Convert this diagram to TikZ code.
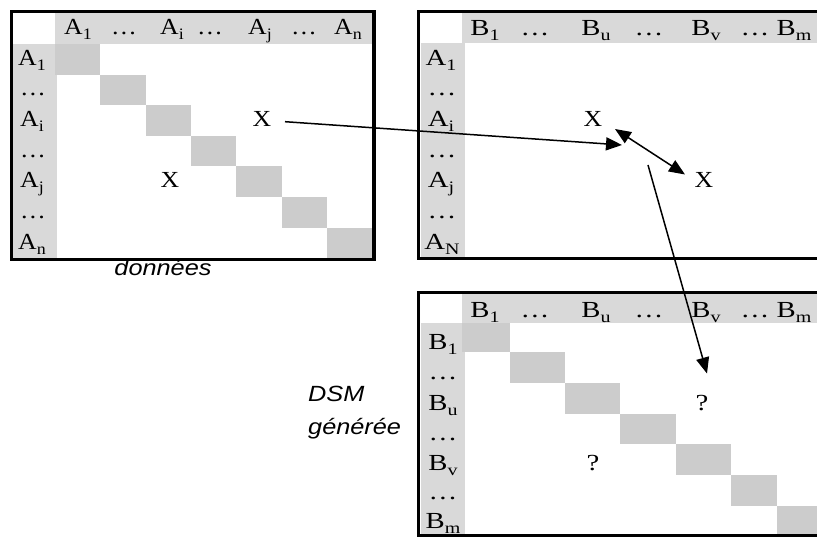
\documentclass[tikz,border=0pt]{standalone}
\usepackage{fontspec}
\setmainfont{Liberation Serif}[FakeStretch=1.12]
\newfontfamily\wideserif{Liberation Serif}[FakeStretch=1.25]
\newfontfamily\capsans{Liberation Sans}[FakeStretch=1.15]
\usetikzlibrary{arrows.meta}
\definecolor{hdrgray}{HTML}{D9D9D9}
\definecolor{diaggray}{HTML}{CCCCCC}
\newcommand\lb[2]{#1\raisebox{-5pt}{\fontsize{16}{16}\selectfont #2}}
\newcommand\dts{…}
\begin{document}
\begin{tikzpicture}[x=1pt,y=-1pt,
  lbl/.style={font=\fontsize{23}{23}\selectfont, inner sep=0pt, anchor=base},
  lblw/.style={font=\wideserif\fontsize{23}{23}\selectfont, inner sep=0pt, anchor=base},
  captxt/.style={font=\capsans\itshape\fontsize{22}{22}\selectfont, inner sep=0pt, anchor=base},
  frame/.style={draw=black, line width=3.2pt},
  conn/.style={line width=1.5pt, -{Triangle[length=16pt,width=13pt]}},
  dconn/.style={line width=1.5pt, {Triangle[length=16pt,width=13pt]}-{Triangle[length=16pt,width=13pt]}}]
\useasboundingbox (0,0) rectangle (817,537);
\clip (0,0) rectangle (817,537);
\fill[white] (0,0) rectangle (817,537);

% ---------- matrix 1 ----------
\fill[hdrgray] (55,13) rectangle (372,44);
\fill[hdrgray] (13,44) rectangle (57,258);
\foreach \xa/\xb/\ya/\yb in {55/100.3/44/74.6, 100.3/145.6/74.6/105.2, 145.6/190.9/105.2/135.8,
  190.9/236.2/135.8/166.4, 236.2/281.5/166.4/197, 281.5/326.8/197/227.6, 326.8/372/227.6/258}
  \fill[diaggray] (\xa,\ya) rectangle (\xb,\yb);
\draw[frame] (11.5,11.5) rectangle (374,259.5);
\node[lbl] (h1a) at (78,35) {\lb{A}{1}};
\node[lbl] (h1b) at (124,35) {\dts};
\node[lbl] (h1c) at (172,35) {\lb{A}{i}};
\node[lbl] (h1d) at (210,35) {\dts};
\node[lbl] (h1e) at (260,35) {\lb{A}{j}};
\node[lbl] (h1f) at (304,35) {\dts};
\node[lbl] (h1g) at (348,35) {\lb{A}{n}};
\node[lbl] (r1a) at (32,65.5) {\lb{A}{1}};
\node[lbl] (r1b) at (33,96) {\dts};
\node[lbl] (r1c) at (32,126.7) {\lb{A}{i}};
\node[lbl] (r1d) at (33,157.3) {\dts};
\node[lbl] (r1e) at (32,187.9) {\lb{A}{j}};
\node[lbl] (r1f) at (33,218.5) {\dts};
\node[lbl] (r1g) at (32,249.1) {\lb{A}{n}};
\node[lbl] (x1a) at (262,126.7) {X};
\node[lbl] (x1b) at (170,187.9) {X};
\node[captxt] (don) at (163,276) {données};

% ---------- matrix 2 ----------
\fill[hdrgray] (462,13) rectangle (830,43);
\fill[hdrgray] (421,43) rectangle (465,257);
\draw[frame] (418.7,11.7) rectangle (840,258.7);
\node[lblw] (h2a) at (485,35.5) {\lb{B}{1}};
\node[lblw] (h2b) at (535,35.5) {\dts};
\node[lblw] (h2c) at (596,35.5) {\lb{B}{u}};
\node[lblw] (h2d) at (649,35.5) {\dts};
\node[lblw] (h2e) at (706,35.5) {\lb{B}{v}};
\node[lblw] (h2f) at (755,35.5) {\dts};
\node[lblw] (h2g) at (794,35.5) {\lb{B}{m}};
\node[lblw] (r2a) at (441,65.5) {\lb{A}{1}};
\node[lblw] (r2b) at (442,96) {\dts};
\node[lblw] (r2c) at (441,126.7) {\lb{A}{i}};
\node[lblw] (r2d) at (442,157.3) {\dts};
\node[lblw] (r2e) at (441,187.9) {\lb{A}{j}};
\node[lblw] (r2f) at (442,218.5) {\dts};
\node[lblw] (r2g) at (442,249.1) {\lb{A}{N}};
\node[lbl] (x2a) at (593,126.7) {X};
\node[lbl] (x2b) at (704,187.9) {X};

% ---------- matrix 3 ----------
\fill[hdrgray] (462,294) rectangle (830,323);
\fill[hdrgray] (421,323) rectangle (465,537);
\foreach \xa/\xb/\ya/\yb in {462/510/323/352, 510/565/352/383, 565/620/383/414,
  620/676/414/444, 676/731/444/475, 731/777/475/506, 777/830/506/537}
  \fill[diaggray] (\xa,\ya) rectangle (\xb,\yb);
\draw[frame] (418.7,292.7) rectangle (840,535.5);
\node[lblw] (h3a) at (485,317.5) {\lb{B}{1}};
\node[lblw] (h3b) at (535,317.5) {\dts};
\node[lblw] (h3c) at (596,317.5) {\lb{B}{u}};
\node[lblw] (h3d) at (649,317.5) {\dts};
\node[lblw] (h3e) at (706,317.5) {\lb{B}{v}};
\node[lblw] (h3f) at (755,317.5) {\dts};
\node[lblw] (h3g) at (794,317.5) {\lb{B}{m}};
\node[lblw] (r3a) at (443,349.5) {\lb{B}{1}};
\node[lblw] (r3b) at (443,380) {\dts};
\node[lblw] (r3c) at (443,410) {\lb{B}{u}};
\node[lblw] (r3d) at (443,440) {\dts};
\node[lblw] (r3e) at (443,470) {\lb{B}{v}};
\node[lblw] (r3f) at (443,499.5) {\dts};
\node[lblw] (r3g) at (443,528) {\lb{B}{m}};
\node[lblw] (q3a) at (702,410) {?};
\node[lblw] (q3b) at (593,470) {?};
\node[captxt, anchor=base west] (dsm) at (308,402) {DSM};
\node[captxt, anchor=base west] (gen) at (308,435) {générée};

% ---------- connectors ----------
\coordinate (a1s) at (285,121.7);
\coordinate (a1e) at (622,145);
\coordinate (a2s) at (615,129);
\coordinate (a2e) at (685,174.5);
\coordinate (a3s) at (648,165);
\coordinate (a3e) at (707,373.5);
\draw[conn] (a1s) -- (a1e);
\draw[dconn] (a2s) -- (a2e);
\draw[conn] (a3s) -- (a3e);
\end{tikzpicture}
\end{document}
